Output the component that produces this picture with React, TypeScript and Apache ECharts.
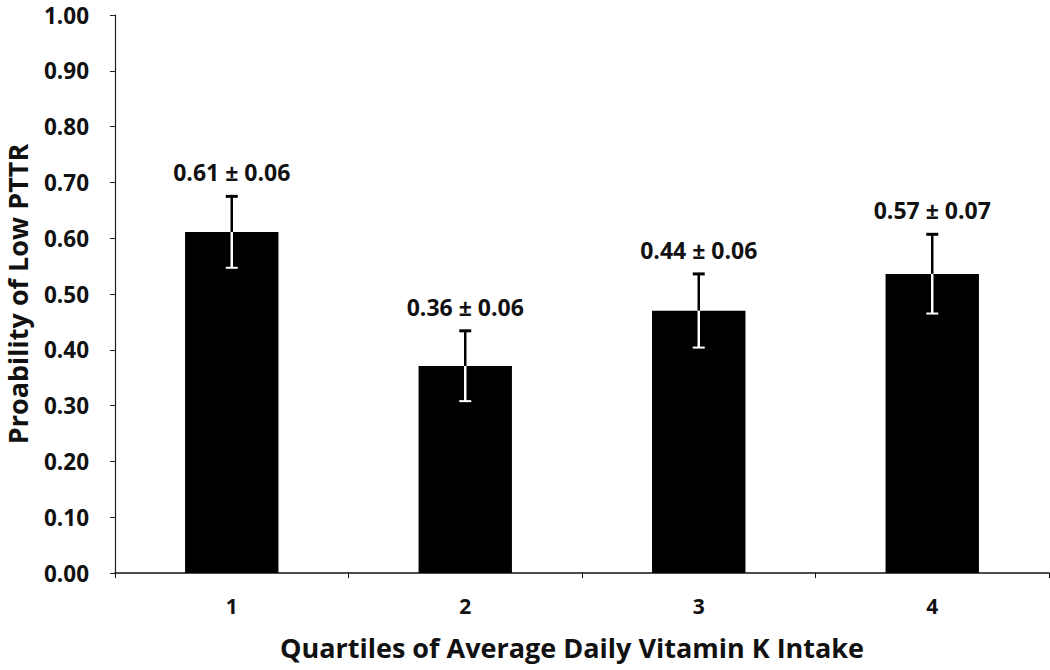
import React, { useEffect, useRef } from "react";
import * as echarts from "echarts";

const categories = ["1", "2", "3", "4"];
const probability = [0.611, 0.371, 0.47, 0.536];
const errorMargin = [0.064, 0.063, 0.066, 0.071];
const valueLabels = ["0.61 ± 0.06", "0.36 ± 0.06", "0.44 ± 0.06", "0.57 ± 0.07"];
const yTicks = { min: 0, max: 1, interval: 0.1 };

const FONT = "'Open Sans', 'Noto Sans', sans-serif";

export default function App() {
  const ref = useRef<HTMLDivElement>(null);
  useEffect(() => {
    if (!ref.current) return;
    const chart = echarts.init(ref.current, null, { renderer: "svg" });
    const errData = probability.map((v, i) => [i, v, errorMargin[i]]);
    chart.setOption({
      animation: false,
      backgroundColor: "#ffffff",
      grid: {
        left: 115,
        right: 1,
        top: 15,
        bottom: 97,
        containLabel: false,
        outerBoundsMode: "none",
      },
      xAxis: {
        type: "category",
        data: categories,
        boundaryGap: true,
        name: "Quartiles of Average Daily Vitamin K Intake",
        nameLocation: "middle",
        nameGap: 61,
        nameTextStyle: {
          fontFamily: FONT,
          fontWeight: "bold",
          fontSize: 27,
          color: "#111",
          padding: [0, 20, 0, 0],
        },
        axisLine: { lineStyle: { color: "#111", width: 1.5 } },
        axisTick: { show: true, length: 5, lineStyle: { color: "#111" } },
        axisLabel: { fontFamily: FONT, fontWeight: "bold", fontSize: 21, color: "#111", margin: 22 },
        splitLine: { show: false },
      },
      yAxis: {
        type: "value",
        min: yTicks.min,
        max: yTicks.max,
        interval: yTicks.interval,
        name: "Proability of Low PTTR",
        nameLocation: "middle",
        nameGap: 84,
        nameRotate: 90,
        nameTextStyle: {
          fontFamily: FONT,
          fontWeight: "bold",
          fontSize: 27,
          lineHeight: 27,
          color: "#111",
        },
        axisLine: { show: true, lineStyle: { color: "#222", width: 1.2 } },
        axisTick: { show: true, length: 5, lineStyle: { color: "#222" } },
        axisLabel: {
          fontFamily: FONT,
          fontWeight: "bold",
          fontSize: 22.5,
          color: "#111",
          margin: 26,
          formatter: (v: number) => v.toFixed(2),
        },
        splitLine: { show: false },
      },
      series: [
        {
          type: "bar",
          data: probability,
          barWidth: "40%",
          itemStyle: { color: "#000" },
        },
        {
          type: "custom",
          data: errData,
          z: 10,
          renderItem: (params: any, api: any) => {
            const i = api.value(0);
            const v = api.value(1);
            const e = api.value(2);
            const top = api.coord([i, v + e]);
            const mid = api.coord([i, v]);
            const bot = api.coord([i, v - e]);
            const cap = 6;
            return {
              type: "group",
              children: [
                {
                  type: "line",
                  shape: { x1: top[0], y1: top[1], x2: mid[0], y2: mid[1] },
                  style: { stroke: "#000", lineWidth: 2.5 },
                },
                {
                  type: "line",
                  shape: { x1: top[0] - cap, y1: top[1], x2: top[0] + cap, y2: top[1] },
                  style: { stroke: "#000", lineWidth: 3 },
                },
                {
                  type: "line",
                  shape: { x1: mid[0], y1: mid[1], x2: bot[0], y2: bot[1] },
                  style: { stroke: "#fff", lineWidth: 2.5 },
                },
                {
                  type: "line",
                  shape: { x1: bot[0] - cap, y1: bot[1], x2: bot[0] + cap, y2: bot[1] },
                  style: { stroke: "#fff", lineWidth: 2 },
                },
                {
                  type: "text",
                  x: top[0],
                  y: top[1] - 24,
                  style: {
                    text: valueLabels[params.dataIndex],
                    fontFamily: FONT,
                    fontWeight: "bold",
                    fontSize: 23,
                    fill: "#111",
                    align: "center",
                    verticalAlign: "middle",
                  },
                },
              ],
            };
          },
        },
      ],
    });
    return () => chart.dispose();
  }, []);
  return (
    <div
      ref={ref}
      style={{ position: "fixed", left: 0, top: 0, width: 1050, height: 670 }}
    />
  );
}
